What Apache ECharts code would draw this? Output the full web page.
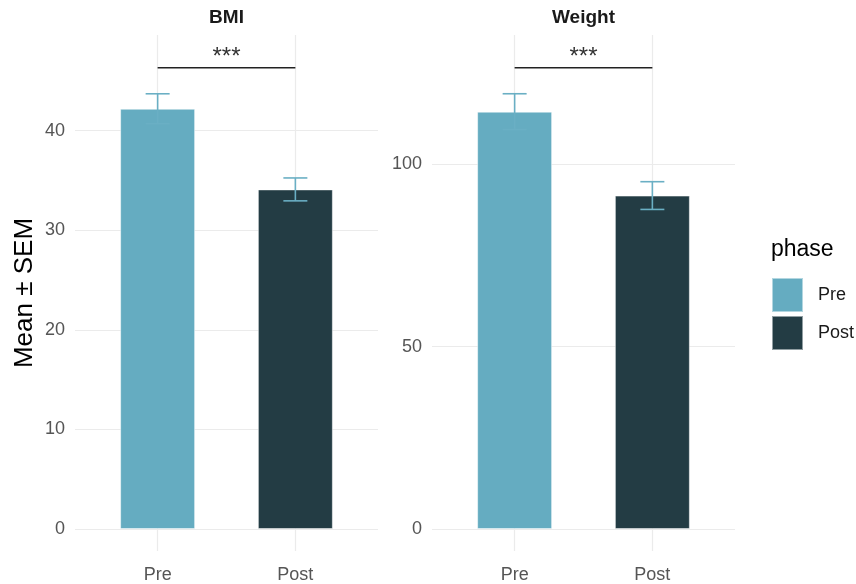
<!DOCTYPE html>
<html>
<head>
<meta charset="utf-8">
<script src="https://cdn.jsdelivr.net/npm/echarts@6/dist/echarts.min.js"></script>
<style>
  html, body { margin: 0; padding: 0; background: #fff; }
  #main { width: 856px; height: 584px; }
</style>
</head>
<body>
<div id="main"></div>
<script>
var chartDom = document.getElementById("main");
var myChart = echarts.init(chartDom);
var option;

// data
var categories = ["Pre", "Post"];
var panels = ["BMI", "Weight"];
var bmiMean = [42.2, 34.1];
var bmiSem = [1.5, 1.15];
var weightMean = [114.4, 91.4];
var weightSem = [4.9, 3.8];
var sigY = [46.3, 126.4];
var sigLabel = "***";
var bmiTicks = [0, 10, 20, 30, 40];
var weightTicks = [0, 50, 100];

var means = [bmiMean, weightMean];
var sems = [bmiSem, weightSem];
var ticks = [bmiTicks, weightTicks];
var yMin = [-2.2, -6.0];
var yMax = [49.6, 135.4];

var colors = ["#65acc1", "#233c44"];
var errColor = "#6aafc4";
var font = "Liberation Sans, Arial, sans-serif";
var gridLeft = [75, 432];
var gridWidth = 303;

var grids = [], xAxes = [], yAxes = [], titles = [], series = [];

panels.forEach(function (name, p) {
  grids.push({ left: gridLeft[p], width: gridWidth, top: 35, bottom: 33 });
  titles.push({
    text: name,
    left: gridLeft[p] + gridWidth / 2,
    textAlign: "center",
    top: 8,
    padding: 0,
    textStyle: { fontFamily: font, fontSize: 19, fontWeight: "bold", color: "#1a1a1a" }
  });
  xAxes.push({
    type: "value",
    gridIndex: p,
    min: 0.4,
    max: 2.6,
    axisLine: { show: false },
    axisTick: { show: false, customValues: [1, 2] },
    axisLabel: {
      customValues: [1, 2],
      margin: 15,
      fontFamily: font,
      fontSize: 18,
      color: "#555555",
      formatter: function (v) { return categories[Math.round(v) - 1]; }
    },
    splitLine: { show: true, lineStyle: { color: "#ebebeb", width: 1.2 } }
  });
  yAxes.push({
    type: "value",
    gridIndex: p,
    min: yMin[p],
    max: yMax[p],
    name: p === 0 ? "Mean ± SEM" : "",
    nameLocation: "middle",
    nameGap: 37,
    nameTextStyle: { fontFamily: font, fontSize: 26, color: "#000" },
    axisLine: { show: false },
    axisTick: { show: false, customValues: ticks[p] },
    axisLabel: {
      customValues: ticks[p],
      margin: 10,
      fontFamily: font,
      fontSize: 18,
      color: "#555555"
    },
    splitLine: { show: true, lineStyle: { color: "#ebebeb", width: 1.2 } }
  });

  categories.forEach(function (c, i) {
    series.push({
      name: c,
      type: "bar",
      xAxisIndex: p,
      yAxisIndex: p,
      barWidth: 75,
      barGap: "-100%",
      itemStyle: { color: colors[i], borderColor: "rgba(255,255,255,0.5)", borderWidth: 1 },
      data: [[i + 1, means[p][i]]]
    });
  });

  // error bars
  series.push({
    type: "custom",
    xAxisIndex: p,
    yAxisIndex: p,
    z: 5,
    data: means[p].map(function (m, i) { return [i + 1, m, sems[p][i]]; }),
    renderItem: function (params, api) {
      var x = api.value(0), m = api.value(1), s = api.value(2);
      var top = api.coord([x, m + s]);
      var bot = api.coord([x, m - s]);
      var half = 12;
      var st = { stroke: errColor, lineWidth: 1.6 };
      return {
        type: "group",
        children: [
          { type: "line", shape: { x1: top[0], y1: top[1], x2: bot[0], y2: bot[1] }, style: st },
          { type: "line", shape: { x1: top[0] - half, y1: top[1], x2: top[0] + half, y2: top[1] }, style: st },
          { type: "line", shape: { x1: bot[0] - half, y1: bot[1], x2: bot[0] + half, y2: bot[1] }, style: st }
        ]
      };
    }
  });

  // significance bracket
  series.push({
    type: "custom",
    xAxisIndex: p,
    yAxisIndex: p,
    z: 6,
    data: [[1, sigY[p], 2]],
    renderItem: function (params, api) {
      var a = api.coord([api.value(0), api.value(1)]);
      var b = api.coord([api.value(2), api.value(1)]);
      return {
        type: "group",
        children: [
          { type: "line", shape: { x1: a[0], y1: a[1], x2: b[0], y2: b[1] }, style: { stroke: "#222222", lineWidth: 1.5 } },
          {
            type: "text",
            x: (a[0] + b[0]) / 2,
            y: a[1] - 10,
            style: {
              text: sigLabel,
              align: "center",
              verticalAlign: "middle",
              fontFamily: font,
              fontSize: 24,
              fill: "#333333"
            }
          }
        ]
      };
    }
  });
});

option = {
  animation: false,
  backgroundColor: "#ffffff",
  title: titles,
  grid: grids,
  xAxis: xAxes,
  yAxis: yAxes,
  legend: {
    data: categories,
    orient: "vertical",
    left: 771,
    top: 277,
    padding: 0,
    itemWidth: 31,
    itemHeight: 34,
    itemGap: 2,
    icon: "rect",
    selectedMode: false,
    textStyle: { fontFamily: font, fontSize: 18, color: "#1a1a1a", padding: [0, 0, 0, 10] }
  },
  graphic: [
    {
      type: "text",
      left: 771,
      top: 238,
      style: { text: "phase", fontFamily: font, fontSize: 23, fill: "#000" }
    }
  ],
  series: series
};

option && myChart.setOption(option);
</script>
</body>
</html>
